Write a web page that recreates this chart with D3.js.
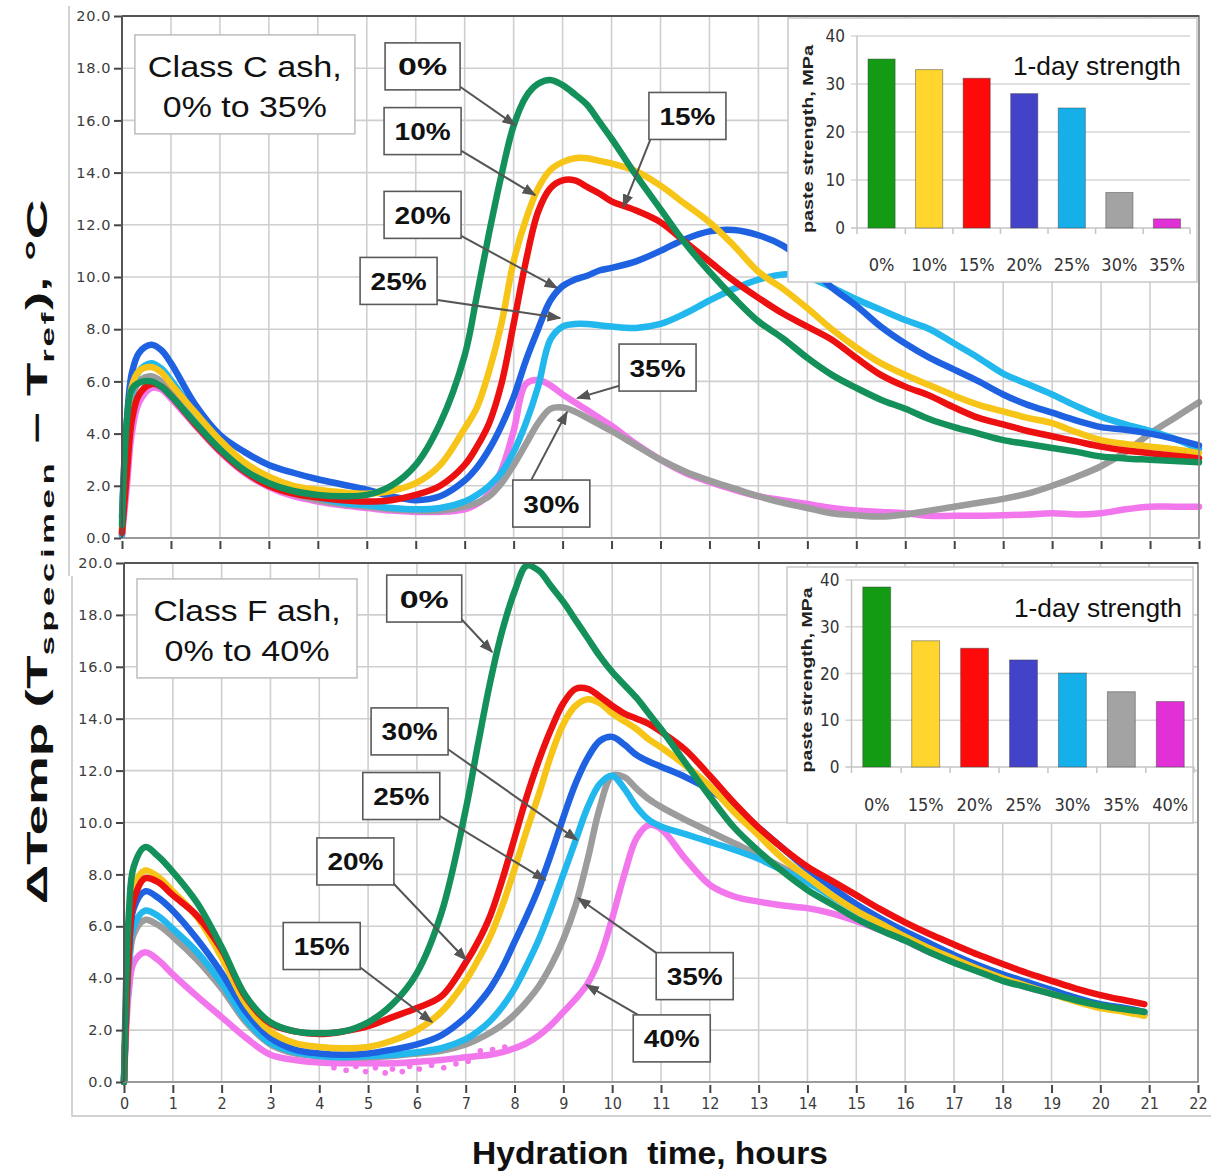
<!DOCTYPE html>
<html><head><meta charset="utf-8">
<script src="https://cdn.jsdelivr.net/npm/d3@7"></script>
<style>body{margin:0;background:#fff}svg{display:block}</style>
</head><body>
<svg id="c" width="1211" height="1171"></svg>
<script>
// ---------------- DATA ----------------
const hourTicks = [0,1,2,3,4,5,6,7,8,9,10,11,12,13,14,15,16,17,18,19,20,21,22];
const tempTicks = [0,2,4,6,8,10,12,14,16,18,20];
const strengthTicks = [0,10,20,30,40];

// Class C panel (top)
const timeC = [0,0.1,0.2,0.35,0.6,0.8,1, 1.5,2,2.5,3,3.5,4,4.5,5,5.5,6,6.5,7,
  7.25,7.5,7.75,8,8.25,8.5,8.75,9,9.25,9.5,9.75,10,
  10.5,11,11.5,12,12.5,13,13.5,14,14.5,15,15.5,16,16.5,17,17.5,18,18.5,19,19.5,20,20.5,21,21.5,22];
const c0  = [0.5,4.5,5.7,5.95,6.0,5.8,5.45, 4.4,3.4,2.6,2.1,1.8,1.65,1.6,1.65,2.0,2.8,4.4,7.0,
  9.3,11.7,13.9,15.8,16.9,17.4,17.55,17.35,17.0,16.6,15.95,15.3,
  13.9,12.6,11.3,10.2,9.2,8.3,7.65,6.9,6.25,5.75,5.3,4.95,4.55,4.25,4.0,3.75,3.6,3.45,3.3,3.12,3.05,3.0,2.95,2.9];
const c10 = [0.3,4.0,5.8,6.4,6.55,6.35,5.9, 4.8,3.75,2.9,2.35,2.0,1.85,1.75,1.7,1.8,2.1,2.8,4.2,
  5.0,6.4,8.2,10.6,12.2,13.4,14.1,14.4,14.55,14.55,14.45,14.35,
  14.05,13.5,12.8,12.1,11.2,10.2,9.55,8.8,8.0,7.3,6.7,6.25,5.85,5.45,5.1,4.85,4.6,4.4,4.05,3.75,3.6,3.5,3.4,3.25];
const c15 = [0.2,2.5,4.5,5.5,5.9,5.8,5.45, 4.35,3.35,2.55,2.0,1.7,1.55,1.45,1.4,1.45,1.65,2.0,2.8,
  3.5,4.4,5.9,8.2,10.6,12.5,13.4,13.7,13.7,13.45,13.2,12.9,
  12.55,12.1,11.35,10.6,9.85,9.2,8.6,8.1,7.6,6.9,6.25,5.8,5.45,5.0,4.6,4.35,4.1,3.9,3.7,3.5,3.35,3.25,3.15,3.05];
const c20 = [0.8,4.5,6.3,7.1,7.4,7.2,6.7, 5.1,3.95,3.3,2.8,2.5,2.25,2.05,1.85,1.6,1.45,1.6,2.2,
  2.7,3.4,4.3,5.4,6.8,8.0,9.1,9.65,9.9,10.05,10.25,10.35,
  10.6,11.0,11.45,11.75,11.8,11.6,11.2,10.5,9.6,8.9,8.1,7.45,6.9,6.45,6.0,5.5,5.1,4.8,4.5,4.25,4.15,4.0,3.8,3.55];
const c25 = [0.1,3.5,5.5,6.4,6.7,6.5,6.05, 4.75,3.65,2.8,2.25,1.85,1.55,1.35,1.25,1.15,1.1,1.15,1.4,
  1.65,2.0,2.5,3.3,4.4,5.8,7.6,8.1,8.2,8.2,8.15,8.1,
  8.05,8.2,8.6,9.1,9.55,9.9,10.1,10.0,9.6,9.15,8.75,8.35,8.0,7.45,6.9,6.3,5.9,5.5,5.05,4.65,4.35,4.1,3.8,3.4];
const c30 = [0.2,3.5,5.3,6.0,6.2,6.0,5.6, 4.45,3.4,2.6,2.05,1.7,1.45,1.3,1.2,1.1,1.05,1.05,1.2,
  1.35,1.6,2.1,2.8,3.6,4.4,4.95,5.0,4.85,4.6,4.35,4.1,
  3.55,3.0,2.55,2.2,1.9,1.6,1.35,1.15,0.95,0.87,0.82,0.9,1.05,1.2,1.35,1.5,1.7,2.0,2.35,2.75,3.3,4.0,4.6,5.2];
const c35 = [0.1,2.0,4.0,5.2,5.75,5.7,5.35, 4.3,3.3,2.5,1.95,1.6,1.4,1.25,1.15,1.05,1.0,1.0,1.1,
  1.3,1.7,2.6,4.1,5.9,6.05,5.85,5.5,5.2,4.9,4.6,4.3,
  3.6,3.0,2.5,2.15,1.85,1.6,1.45,1.3,1.15,1.05,1.0,0.95,0.85,0.85,0.85,0.87,0.9,0.95,0.9,0.95,1.1,1.2,1.2,1.2];

// Class F panel (bottom)
const timeF = [0,0.1,0.2,0.43,0.7,1, 1.5,2,2.5,3,3.5,4,4.5,5,5.5,6,6.5,7,
  7.25,7.5,7.75,8,8.25,8.5,8.75,9,9.25,9.5,9.75,10, 10.25,10.5,10.75,11,
  11.5,12,12.5,13,13.5,14,14.5,15,15.5,16,16.5,17,17.5,18,18.5,19,19.5,20,20.5, 20.9];
const f0  = [0,6.5,8.3,9.05,8.7,8.1, 6.9,5.2,3.3,2.3,1.95,1.88,1.95,2.3,3.0,4.2,6.5,10.5,
  13.0,15.4,17.4,18.9,19.9,19.7,19.1,18.5,17.8,17.1,16.4,15.8, 15.3,14.8,14.2,13.6,
  12.3,11.0,9.8,8.9,8.1,7.4,6.85,6.3,5.85,5.45,5.0,4.6,4.25,3.9,3.65,3.4,3.15,2.95,2.8, 2.7];
const f15 = [0,5.5,7.5,8.15,7.9,7.35, 6.35,4.8,3.0,1.95,1.5,1.35,1.3,1.35,1.6,2.0,2.7,3.9,
  4.7,5.6,6.8,8.2,9.7,11.1,12.6,13.8,14.5,14.75,14.6,14.2, 13.9,13.6,13.2,12.9,
  12.2,11.4,10.4,9.5,8.6,7.9,7.2,6.6,6.1,5.6,5.15,4.75,4.35,4.0,3.7,3.4,3.1,2.85,2.7, 2.55];
const f20 = [0,5.0,7.0,7.85,7.7,7.2, 6.4,5.1,3.25,2.25,1.95,1.85,1.95,2.15,2.5,2.85,3.3,4.6,
  5.4,6.4,7.8,9.4,11.0,12.4,13.6,14.6,15.15,15.15,14.85,14.5, 14.2,14.0,13.8,13.5,
  12.8,11.8,10.75,9.8,9.0,8.3,7.75,7.2,6.65,6.15,5.7,5.3,4.9,4.55,4.2,3.9,3.6,3.35,3.15, 3.0];
const f25 = [0,5.0,6.7,7.35,7.1,6.6, 5.5,4.2,2.7,1.7,1.25,1.1,1.05,1.1,1.25,1.45,1.8,2.5,
  3.0,3.6,4.4,5.4,6.4,7.5,8.8,10.2,11.5,12.5,13.15,13.3, 13.0,12.6,12.35,12.15,
  11.75,11.25,10.6,9.8,9.0,8.2,7.5,6.85,6.3,5.8,5.35,4.9,4.5,4.15,3.85,3.55,3.25,3.0,2.85, 2.7];
const f30 = [0,4.5,6.0,6.6,6.4,5.9, 5.0,3.8,2.4,1.5,1.15,1.0,0.95,1.0,1.05,1.15,1.3,1.65,
  1.95,2.35,2.9,3.6,4.5,5.5,6.7,8.0,9.3,10.6,11.5,11.8, 11.3,10.6,10.1,9.85,
  9.55,9.25,8.95,8.6,8.15,7.7,7.15,6.6,6.1,5.6,5.15,4.75,4.4,4.05,3.75,3.45,3.2,2.95,2.75, 2.6];
const f35 = [0,4.3,5.7,6.25,6.05,5.6, 4.7,3.6,2.3,1.45,1.1,1.0,0.95,0.95,1.0,1.1,1.2,1.45,
  1.65,1.9,2.2,2.6,3.1,3.7,4.5,5.5,6.8,8.6,10.6,11.8, 11.75,11.3,10.9,10.6,
  10.1,9.65,9.2,8.75,8.25,7.8,7.2,6.65,6.1,5.6,5.15,4.75,4.4,4.05,3.75,3.45,3.2,2.95,2.75, 2.6];
const f40 = [0,3.5,4.6,5.0,4.7,4.15, 3.3,2.5,1.7,1.05,0.85,0.75,0.72,0.72,0.72,0.78,0.85,0.95,
  1.0,1.05,1.15,1.3,1.5,1.8,2.2,2.7,3.2,3.8,4.8,6.3, 8.0,9.4,9.9,9.75,
  8.6,7.6,7.15,6.95,6.8,6.7,6.5,6.2,5.85,5.45,5.0,4.65,4.3,3.95,3.65,3.4,3.15,2.9,2.75, 2.6];
// scattered low readings of the 40% curve
const f40NoiseT = [4.3,4.55,4.75,4.95,5.15,5.35,5.5,5.7,5.85,6.05,6.3,6.55,6.8,7.05,7.3,7.55,7.8];
const f40NoiseV = [0.55,0.45,0.6,0.4,0.55,0.35,0.5,0.4,0.6,0.5,0.65,0.55,0.7,0.8,1.2,1.25,1.35];

// 1-day strength insets
const strengthCatsC = ["0%","10%","15%","20%","25%","30%","35%"];
const strengthValsC = [35.2,33.0,31.2,28.0,25.0,7.4,1.9];
const strengthCatsF = ["0%","15%","20%","25%","30%","35%","40%"];
const strengthValsF = [38.5,27.0,25.4,22.9,20.1,16.1,14.0];

// annotation labels (text, box centre [t,v], arrow start [t,v], arrow tip [t,v])
const labelsC = ["0%","10%","15%","20%","25%","35%","30%"];
const labelPosC = [[6.14,18.07],[6.14,15.59],[11.55,16.17],[6.14,12.38],[5.65,9.85],[10.94,6.53],[8.77,1.32]];
const arrowFromC = [[6.9,17.3],[6.9,14.87],[10.79,15.25],[6.9,11.6],[6.44,9.12],[10.21,5.86],[8.34,2.15]];
const arrowToC = [[8.03,15.82],[8.44,13.14],[10.24,12.68],[8.89,9.58],[8.95,8.43],[9.3,5.36],[9.09,4.83]];
const labelsF = ["0%","30%","25%","20%","15%","35%","40%"];
const labelPosF = [[6.15,18.63],[5.85,13.51],[5.68,11.02],[4.74,8.5],[4.05,5.24],[11.69,4.08],[11.22,1.68]];
const arrowFromF = [[6.89,17.88],[6.6,12.87],[6.43,10.29],[5.51,7.67],[4.8,4.47],[11.02,4.82],[10.61,2.5]];
const arrowToF = [[7.54,16.57],[9.28,9.33],[8.63,7.78],[7.01,4.7],[6.31,2.31],[9.3,7.09],[9.47,3.74]];

// ---------------- STYLE ----------------
const lineColors = {g:"#14905a", y:"#f7c418", r:"#ec1010", b:"#1e62e2", c:"#22b8ee", k:"#9c9c9c", m:"#f277ec"};
const barColors = ["#149b14","#ffd52e","#ff0a0a","#4343c9","#15b0e9","#a3a3a3","#e030d6"];
const FONT = "'Liberation Sans', Arial, sans-serif";
const NARROW = "'Liberation Sans Narrow','DejaVu Sans Condensed','Arial Narrow',sans-serif";

const svg = d3.select("#c");
const defs = svg.append("defs");
defs.append("marker").attr("id","ah").attr("viewBox","0 0 10 10")
  .attr("refX",9).attr("refY",5).attr("markerWidth",7).attr("markerHeight",7)
  .attr("markerUnits","strokeWidth").attr("orient","auto")
  .append("path").attr("d","M0,1.2 L10,5 L0,8.8 z").attr("fill","#555");

// outer light frames of the two panels
svg.append("line").attr("x1",69).attr("x2",69).attr("y1",6).attr("y2",576).attr("stroke","#c4c4c4").attr("stroke-width",1.5);
svg.append("path").attr("d","M72,576 L72,1116 L1211,1116").attr("fill","none").attr("stroke","#c4c4c4").attr("stroke-width",1.5);

function drawPanel(p){
  const x = d3.scaleLinear().domain([0,22]).range(p.xr);
  const y = d3.scaleLinear().domain([0,20]).range(p.yr);
  const g = svg.append("g");
  g.append("rect").attr("x",x(0)).attr("y",y(20)).attr("width",x(22)-x(0)).attr("height",y(0)-y(20)).attr("fill","#fff");
  g.append("g").selectAll("line").data(hourTicks).join("line")
    .attr("x1",d=>x(d)).attr("x2",d=>x(d)).attr("y1",y(0)).attr("y2",y(20))
    .attr("stroke","#cfcfcf").attr("stroke-width",1.6);
  g.append("g").selectAll("line").data(tempTicks).join("line")
    .attr("y1",d=>y(d)).attr("y2",d=>y(d)).attr("x1",x(0)).attr("x2",x(22))
    .attr("stroke","#cfcfcf").attr("stroke-width",1.6);

  // class box
  const cb = g.append("g");
  const cx = x(p.classPos[0]), cy = y(p.classPos[1]);
  cb.append("rect").attr("x",cx-110).attr("y",cy-50).attr("width",220).attr("height",99)
    .attr("fill","#fff").attr("stroke","#bdbdbd").attr("stroke-width",1.5);
  p.classText.forEach((t,i)=>{
    cb.append("text").attr("x",cx).attr("y",cy-8+i*40).attr("text-anchor","middle")
      .attr("font-family",FONT).attr("font-size",29).attr("fill","#111")
      .attr("textLength",p.classWidths[i]).attr("lengthAdjust","spacingAndGlyphs").text(t);
  });

  // curves
  const line = d3.line().x((d,i)=>x(p.time[i])).y(d=>y(d)).curve(d3.curveCatmullRom.alpha(0.5));
  if (p.noise){
    g.append("g").selectAll("circle").data(p.noise.v).join("circle")
      .attr("cx",(d,i)=>x(p.noise.t[i])).attr("cy",d=>y(d)).attr("r",2.8).attr("fill",p.noise.color);
  }
  p.series.forEach(s=>{
    g.append("path").attr("d",line(s.values)).attr("fill","none")
      .attr("stroke",s.color).attr("stroke-width",6.5)
      .attr("stroke-linejoin","round").attr("stroke-linecap","round");
  });

  // plot border
  g.append("rect").attr("x",x(0)).attr("y",y(20)).attr("width",x(22)-x(0)).attr("height",y(0)-y(20))
    .attr("fill","none").attr("stroke","#8a8a8a").attr("stroke-width",1.6);
  g.append("line").attr("x1",x(0)).attr("x2",x(0)).attr("y1",y(0)).attr("y2",y(20)).attr("stroke","#555").attr("stroke-width",2);
  g.append("line").attr("x1",x(0)).attr("x2",x(22)).attr("y1",y(20)).attr("y2",y(20)).attr("stroke","#555").attr("stroke-width",2);

  // y axis
  const ya = g.append("g").attr("transform",`translate(${x(0)-1},0)`)
    .call(d3.axisLeft(y).tickValues(tempTicks).tickSize(7).tickPadding(3).tickFormat(d=>d.toFixed(1)));
  ya.select(".domain").remove();
  ya.selectAll(".tick line").attr("stroke","#444").attr("stroke-width",2);
  ya.selectAll(".tick text").attr("font-family","'DejaVu Sans',Verdana,sans-serif").attr("font-size",14.5)
    .attr("letter-spacing",0.6).attr("fill","#3c3c3c");

  // x axis
  const xa = g.append("g").attr("transform",`translate(0,${y(0)+3})`)
    .call(d3.axisBottom(x).tickValues(hourTicks).tickSize(8).tickPadding(5).tickFormat(p.showXLabels ? (d=>d) : ""));
  xa.select(".domain").remove();
  xa.selectAll(".tick line").attr("stroke","#444").attr("stroke-width",2);
  xa.selectAll(".tick text").attr("font-family",NARROW).attr("font-size",16).attr("fill","#3c3c3c");

  return {x,y};
}

function drawInset(o){
  const g = svg.append("g");
  g.append("rect").attr("x",o.box[0]).attr("y",o.box[1]).attr("width",o.box[2]).attr("height",o.box[3])
    .attr("fill","#fff").attr("stroke","#c8c8c8").attr("stroke-width",1.5);
  const xb = d3.scaleBand().domain(o.cats).range(o.xr).paddingInner(0.43).paddingOuter(0.2);
  const yb = d3.scaleLinear().domain([0,40]).range(o.yr);
  const ax = o.xr[0]-1.5;
  g.append("g").selectAll("line").data(strengthTicks.slice(1)).join("line")
    .attr("x1",ax-6).attr("x2",o.xr[1]).attr("y1",d=>yb(d)).attr("y2",d=>yb(d))
    .attr("stroke","#d6d6d6").attr("stroke-width",1.5);
  g.append("line").attr("x1",ax).attr("x2",ax).attr("y1",yb(0)).attr("y2",yb(40)).attr("stroke","#c4c4c4").attr("stroke-width",1.5);
  g.append("line").attr("x1",ax-6).attr("x2",o.xr[1]).attr("y1",yb(0)).attr("y2",yb(0)).attr("stroke","#c4c4c4").attr("stroke-width",1.5);
  const bounds = o.cats.map((c,i)=> i===0 ? ax : xb(c) - xb.step()*xb.paddingInner()/2).concat([o.xr[1]]);
  g.append("g").selectAll("line").data(bounds).join("line")
    .attr("x1",d=>d).attr("x2",d=>d).attr("y1",yb(0)).attr("y2",yb(0)+6)
    .attr("stroke","#c4c4c4").attr("stroke-width",1.5);
  g.append("g").selectAll("rect").data(o.vals).join("rect")
    .attr("x",(d,i)=>xb(o.cats[i])).attr("width",xb.bandwidth())
    .attr("y",d=>yb(d)).attr("height",d=>yb(0)-yb(d))
    .attr("fill",(d,i)=>barColors[i]).attr("stroke","rgba(60,60,60,0.45)").attr("stroke-width",1);
  g.append("g").selectAll("text").data(strengthTicks).join("text")
    .attr("x",ax-12).attr("y",d=>yb(d)+6).attr("text-anchor","end")
    .attr("font-family",NARROW).attr("font-size",17).attr("fill","#333").text(d=>d);
  g.append("g").selectAll("text").data(o.cats).join("text")
    .attr("x",d=>xb(d)+xb.bandwidth()/2).attr("y",o.labelY).attr("text-anchor","middle")
    .attr("font-family",NARROW).attr("font-size",18).attr("fill","#333").text(d=>d);
  g.append("text").attr("transform",`translate(${o.titleX},${o.titleY}) rotate(-90)`)
    .attr("text-anchor","middle").attr("font-family",FONT).attr("font-weight","bold").attr("font-size",14)
    .attr("fill","#222").attr("textLength",o.titleLen).attr("lengthAdjust","spacingAndGlyphs")
    .text("paste strength, MPa");
  g.append("text").attr("x",o.capX).attr("y",o.capY).attr("text-anchor","end")
    .attr("font-family",FONT).attr("font-size",26).attr("fill","#111")
    .attr("textLength",168).attr("lengthAdjust","spacingAndGlyphs").text("1-day strength");
}

function drawLabels(sc, texts, pos, from, to){
  const g = svg.append("g");
  texts.forEach((t,i)=>{
    g.append("line").attr("x1",sc.x(from[i][0])).attr("y1",sc.y(from[i][1]))
      .attr("x2",sc.x(to[i][0])).attr("y2",sc.y(to[i][1]))
      .attr("stroke","#555").attr("stroke-width",2).attr("marker-end","url(#ah)");
  });
  texts.forEach((t,i)=>{
    const w = t.length === 2 ? 75 : 77;
    const cx = sc.x(pos[i][0]), cy = sc.y(pos[i][1]);
    g.append("rect").attr("x",cx-w/2).attr("y",cy-23.5).attr("width",w).attr("height",47)
      .attr("fill","#fff").attr("stroke","#5a5a5a").attr("stroke-width",1.6);
    g.append("text").attr("x",cx).attr("y",cy+9).attr("text-anchor","middle")
      .attr("font-family",FONT).attr("font-weight","bold").attr("font-size",24).attr("fill","#111")
      .attr("textLength", t.length === 2 ? 49 : 56).attr("lengthAdjust","spacingAndGlyphs").text(t);
  });
}

// ---------------- TOP PANEL (Class C) ----------------
const scC = drawPanel({
  time: timeC, xr:[122,1199], yr:[538,16], showXLabels:false,
  classPos:[2.51,17.36], classText:["Class C ash,","0% to 35%"], classWidths:[194,164],
  series:[
    {values:c35, color:lineColors.m},
    {values:c30, color:lineColors.k},
    {values:c25, color:lineColors.c},
    {values:c20, color:lineColors.b},
    {values:c10, color:lineColors.y},
    {values:c15, color:lineColors.r},
    {values:c0,  color:lineColors.g}
  ]
});
drawInset({box:[788,18,409,264], cats:strengthCatsC, vals:strengthValsC,
  xr:[858.5,1190], yr:[228,36], labelY:271, titleX:813, titleY:139, titleLen:188, capX:1181, capY:75});
drawLabels(scC, labelsC, labelPosC, arrowFromC, arrowToC);

// ---------------- BOTTOM PANEL (Class F) ----------------
const scF = drawPanel({
  time: timeF, xr:[124,1198], yr:[1082,563], showXLabels:true,
  classPos:[2.52,17.46], classText:["Class F ash,","0% to 40%"], classWidths:[187,165],
  noise:{t:f40NoiseT, v:f40NoiseV, color:lineColors.m},
  series:[
    {values:f40, color:lineColors.m},
    {values:f35, color:lineColors.k},
    {values:f30, color:lineColors.c},
    {values:f25, color:lineColors.b},
    {values:f15, color:lineColors.y},
    {values:f20, color:lineColors.r},
    {values:f0,  color:lineColors.g}
  ]
});
drawInset({box:[787,567,406,256], cats:strengthCatsF, vals:strengthValsF,
  xr:[853,1194], yr:[767,580], labelY:811, titleX:812, titleY:680, titleLen:185, capX:1182, capY:617});
drawLabels(scF, labelsF, labelPosF, arrowFromF, arrowToF);

// ---------------- AXIS TITLES ----------------
const yt = svg.append("text").attr("font-family",FONT).attr("font-weight","bold").attr("font-size",30)
  .attr("fill","#111").attr("text-anchor","middle");
yt.append("tspan").text("\u0394Temp (T");
yt.append("tspan").attr("font-size",19).attr("dy",7).attr("letter-spacing",2.5).text("specimen");
yt.append("tspan").attr("dy",-7).text(" \u2212 T");
yt.append("tspan").attr("font-size",19).attr("dy",7).attr("letter-spacing",1.5).text("ref");
yt.append("tspan").attr("dy",-7).text("), \u00B0C");
const ytw = yt.node().getComputedTextLength();
yt.attr("transform",`translate(47,552) rotate(-90) scale(${705/ytw},1)`);

svg.append("text").attr("x",650).attr("y",1164).attr("text-anchor","middle")
  .attr("font-family",FONT).attr("font-weight","bold").attr("font-size",31).attr("fill","#111")
  .attr("textLength",356).attr("lengthAdjust","spacingAndGlyphs").attr("xml:space","preserve")
  .text("Hydration  time, hours");
</script>
</body></html>
